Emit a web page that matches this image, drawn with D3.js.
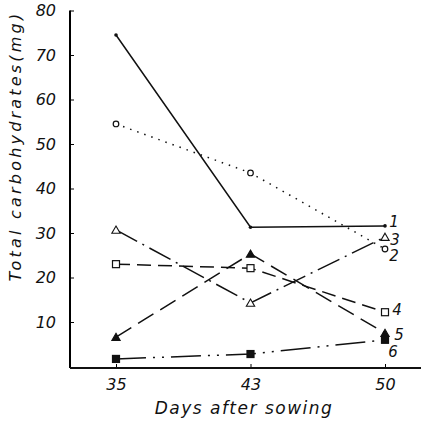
<!DOCTYPE html>
<meta charset="utf-8">
<html>
<head>
    <script src="https://cdn.jsdelivr.net/npm/d3@7"></script>
    <style>
        body { margin: 0; background: #fff; }
        text { font-family: "DejaVu Sans", sans-serif; font-style: italic; fill: #111; }
    </style>
</head>
<body>
    <script>
    // days after sowing
    var days = ["35", "43", "50"];
    var yTicks = [10, 20, 30, 40, 50, 60, 70, 80];

    // total carbohydrates (mg) for each treatment
    var s1 = [74.5, 31.3, 31.6];
    var s2 = [54.5, 43.5, 26.4];
    var s3 = [30.7, 14.3, 29.1];
    var s4 = [23.0, 22.1, 12.2];
    var s5 = [6.6, 25.3, 7.5];
    var s6 = [1.7, 2.8, 6.0];
    var seriesNames = ["1", "2", "3", "4", "5", "6"];

    var allSeries = [s1, s2, s3, s4, s5, s6];

    // line look for each series
    var styles = [
        { dash: null, marker: "dot", lx: 9, ly: -5 },
        { dash: "1.5,6", marker: "circle", lx: 9, ly: 6 },
        { dash: "24,6,2,6", marker: "triangle", lx: 10, ly: 2 },
        { dash: "14,7", marker: "square", lx: 12, ly: -3 },
        { dash: "18,8", marker: "triangleFilled", lx: 14, ly: 1 },
        { dash: "30,7,2,7,2,7", marker: "squareFilled", lx: 8, ly: 11 }
    ];

    var svg = d3.select("body")
       .append("svg")
       .attr("width", 427)
       .attr("height", 423);

    var xScale = d3.scalePoint()
       .domain(days)
       .range([116, 385]);

    var yScale = d3.scaleLinear()
       .domain([0, 80])
       .range([366.5, 10.5]);

    // y axis
    var yAxis = svg.append("g")
       .attr("transform", "translate(70,0)")
       .call(d3.axisLeft(yScale).tickValues(yTicks).tickSizeInner(-4).tickSizeOuter(0).tickPadding(14));
    yAxis.select(".domain").attr("d", "M0," + yScale(80) + "V368").attr("stroke-width", 2);
    yAxis.selectAll("text").style("font-size", "16px").style("font-family", "DejaVu Sans");

    // x axis
    var xAxis = svg.append("g")
       .attr("transform", "translate(0,368)")
       .call(d3.axisBottom(xScale).tickSizeInner(-4).tickSizeOuter(0).tickPadding(11));
    xAxis.select(".domain").remove();
    xAxis.append("line")
       .attr("x1", 70).attr("x2", 421)
       .attr("stroke", "#111").attr("stroke-width", 2);
    xAxis.selectAll("text").style("font-size", "16px").style("font-family", "DejaVu Sans");

    var line = d3.line()
       .x(function(d, i) { return xScale(days[i]); })
       .y(function(d) { return yScale(d); });

    allSeries.forEach(function(values, k) {
        var st = styles[k];
        svg.append("path")
           .datum(values)
           .attr("d", line)
           .attr("fill", "none")
           .attr("stroke", "#111")
           .attr("stroke-width", 1.5)
           .attr("stroke-dasharray", st.dash);

        var g = svg.append("g");
        values.forEach(function(v, i) {
            var cx = xScale(days[i]), cy = yScale(v);
            if (st.marker === "dot") {
                g.append("circle").attr("cx", cx).attr("cy", cy).attr("r", 1.8).attr("fill", "#111");
            } else if (st.marker === "circle") {
                g.append("circle").attr("cx", cx).attr("cy", cy).attr("r", 2.8)
                   .attr("fill", "#fff").attr("stroke", "#111").attr("stroke-width", 1.2);
            } else if (st.marker === "square" || st.marker === "squareFilled") {
                g.append("rect").attr("x", cx - 3.5).attr("y", cy - 3.5).attr("width", 7).attr("height", 7)
                   .attr("fill", st.marker === "square" ? "#fff" : "#111")
                   .attr("stroke", "#111").attr("stroke-width", 1.2);
            } else {
                g.append("path")
                   .attr("d", d3.symbol(d3.symbolTriangle, 30)())
                   .attr("transform", "translate(" + cx + "," + (cy + 1) + ")")
                   .attr("fill", st.marker === "triangle" ? "#fff" : "#111")
                   .attr("stroke", "#111").attr("stroke-width", 1.1);
            }
        });

        var last = values.length - 1;
        svg.append("text")
           .attr("x", xScale(days[last]) + st.lx)
           .attr("y", yScale(values[last]) + st.ly + 6)
           .attr("text-anchor", "middle")
           .style("font-size", "15px")
           .text(seriesNames[k]);
    });

    // axis titles
    svg.append("text")
       .attr("x", 244)
       .attr("y", 414)
       .attr("text-anchor", "middle")
       .style("font-size", "17px")
       .style("letter-spacing", "1.5px")
       .text("Days after sowing");

    svg.append("text")
       .attr("transform", "translate(21,146) rotate(-90)")
       .attr("text-anchor", "middle")
       .style("font-size", "16px")
       .style("letter-spacing", "3.2px")
       .text("Total carbohydrates(mg)");
    </script>
</body>
</html>
